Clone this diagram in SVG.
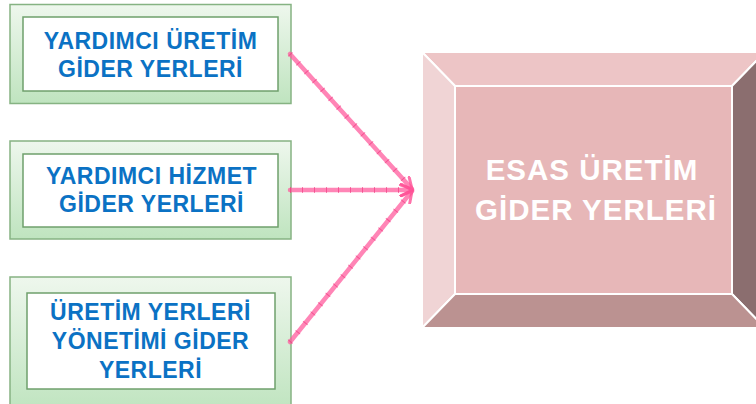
<svg xmlns="http://www.w3.org/2000/svg" width="756" height="404" viewBox="0 0 756 404">
<defs>
<linearGradient id="gGreen" x1="0" y1="0" x2="0" y2="1">
<stop offset="0" stop-color="#EEF7ED"/>
<stop offset="1" stop-color="#BFE4BF"/>
</linearGradient>
<marker id="arrow" viewBox="0 0 14 14" refX="12" refY="7" markerWidth="14" markerHeight="14" markerUnits="userSpaceOnUse" orient="auto">
<path d="M1,1 L12,7 L1,13" fill="none" stroke="#FF4F95" stroke-opacity="0.8" stroke-width="3" stroke-linecap="round"/>
</marker>
<style>
.outer{fill:url(#gGreen);stroke:#86B383;stroke-width:1.5}
.inner{fill:#FFFFFF;stroke:#6FA06C;stroke-width:1.5}
.lbl{font-family:"Liberation Sans",Arial,sans-serif;font-weight:bold;font-size:23px;fill:#0B72C4;text-anchor:middle;letter-spacing:0.5px}
.big{font-family:"Liberation Sans",Arial,sans-serif;font-weight:bold;font-size:29.5px;fill:#FFFFFF;text-anchor:middle;letter-spacing:1px}
.conn{fill:none;stroke:#FF5C9D;stroke-opacity:0.75;stroke-width:4.5;stroke-linecap:round}
.tick{fill:none;stroke:#F0307C;stroke-opacity:0.6;stroke-width:6;stroke-dasharray:1 11}
.bev{stroke:#FFFFFF;stroke-width:2;stroke-linejoin:miter}
</style>
</defs>

<g id="node-yardimci-uretim">
<rect class="outer" x="10" y="4.5" width="281" height="99"/>
<rect class="inner" x="23" y="17" width="255" height="74"/>
<text class="lbl" x="150.5" y="48.5">YARDIMCI ÜRETİM</text>
<text class="lbl" x="150.5" y="76.5">GİDER YERLERİ</text>
</g>

<g id="node-yardimci-hizmet">
<rect class="outer" x="10" y="141" width="281" height="98"/>
<rect class="inner" x="23" y="154" width="255" height="73"/>
<text class="lbl" x="151.5" y="184">YARDIMCI HİZMET</text>
<text class="lbl" x="151.5" y="212">GİDER YERLERİ</text>
</g>

<g id="node-uretim-yerleri-yonetimi">
<rect class="outer" x="10" y="277" width="281" height="135"/>
<rect class="inner" x="27" y="293" width="248" height="96"/>
<text class="lbl" x="150.5" y="319.5">ÜRETİM YERLERİ</text>
<text class="lbl" x="150.5" y="348.5">YÖNETİMİ GİDER</text>
<text class="lbl" x="150.5" y="377.5">YERLERİ</text>
</g>

<g id="node-esas-uretim">
<polygon class="bev" points="422,52 765,52 732,86 455,86" fill="#EDC5C6"/>
<polygon class="bev" points="422,52 455,86 455,294 422,328" fill="#F0D4D5"/>
<polygon class="bev" points="765,52 732,86 732,294 765,328" fill="#8B6E6F"/>
<polygon class="bev" points="422,328 455,294 732,294 765,328" fill="#BB9291"/>
<rect class="bev" x="455" y="86" width="277" height="208" fill="#E7B7B8"/>
<text class="big" x="592" y="179.5">ESAS ÜRETİM</text>
<text class="big" x="596" y="219.5">GİDER YERLERİ</text>
</g>

<g id="connectors">
<line class="conn" x1="290" y1="54" x2="412" y2="189" marker-end="url(#arrow)"/>
<line class="tick" x1="290" y1="54" x2="406" y2="182"/>
<line class="conn" x1="290" y1="190" x2="412" y2="190" marker-end="url(#arrow)"/>
<line class="tick" x1="290" y1="190" x2="404" y2="190"/>
<line class="conn" x1="290" y1="342" x2="412" y2="191" marker-end="url(#arrow)"/>
<line class="tick" x1="290" y1="342" x2="406" y2="198"/>
</g>
</svg>
